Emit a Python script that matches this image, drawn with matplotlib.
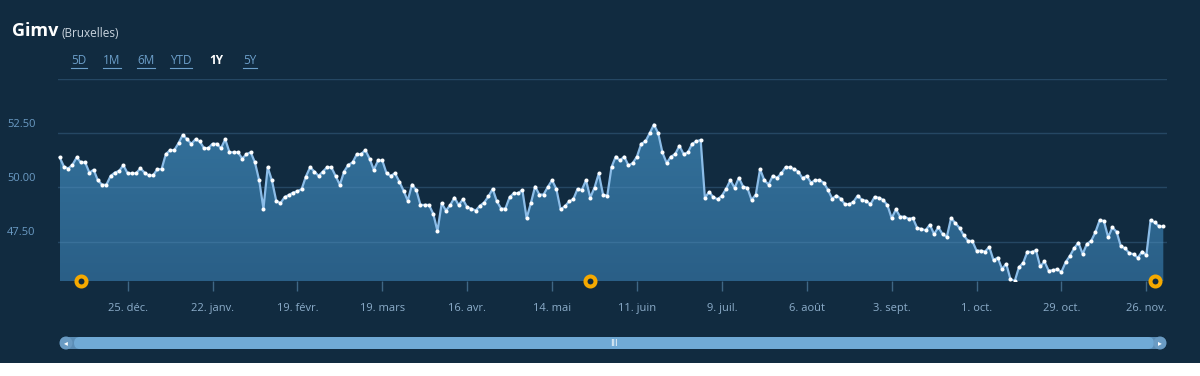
import matplotlib.pyplot as plt
import numpy as np
import pandas as pd
from matplotlib.colors import LinearSegmentedColormap
from matplotlib.patches import Rectangle, FancyBboxPatch, Circle
from matplotlib.transforms import blended_transform_factory

plt.rcParams['font.family'] = ['Open Sans', 'DejaVu Sans']

# data (daily close, business days)
start_date = '2017-12-01'
end_date = '2018-11-30'
close = [
    51.38, 50.96, 50.87, 51.04, 51.38, 51.15, 51.15, 50.68, 50.81, 50.32,
    50.12, 50.12, 50.53, 50.68, 50.76, 51.02, 50.65, 50.65, 50.65, 50.88,
    50.68, 50.55, 50.55, 50.84, 50.84, 51.53, 51.72, 51.72, 52.04, 52.42,
    52.22, 52.01, 52.22, 52.12, 51.81, 51.81, 52.01, 52.01, 51.81, 52.22,
    51.62, 51.62, 51.62, 51.33,
    51.53, 51.62, 51.15, 50.32, 49.02, 50.93, 50.32, 49.39, 49.27, 49.55,
    49.65, 49.76, 49.82, 49.92, 50.50, 50.93, 50.73, 50.53, 50.73, 50.93,
    50.93, 50.53, 50.12, 50.73, 51.04, 51.15, 51.53, 51.53, 51.72, 51.33,
    50.81, 51.24, 51.24, 50.65, 50.53, 50.65, 50.27, 49.85, 49.39, 50.13,
    49.88, 49.19, 49.19,
    49.19, 48.78, 47.99, 49.27, 48.93, 49.18, 49.53, 49.18, 49.45, 49.08,
    49.02, 48.93, 49.15, 49.30, 49.58, 49.93, 49.35, 49.02, 49.02, 49.55,
    49.73, 49.73, 49.88, 48.58, 49.27, 50.04, 49.67, 49.67, 50.02, 50.33,
    49.93, 48.99, 49.12, 49.35, 49.45, 49.93, 49.88, 50.33, 49.53, 49.99,
    50.64, 49.67, 49.61,
    50.93, 51.42, 51.24, 51.42, 51.01, 51.12, 51.42, 52.01, 52.12, 52.50,
    52.90, 52.50, 51.61, 51.12, 51.42, 51.53, 51.92, 51.53, 51.61, 52.01,
    52.12, 52.19, 49.52, 49.79, 49.55, 49.45, 49.61, 49.93, 50.33, 49.98,
    50.44, 50.04, 49.98, 49.42, 49.67, 50.84, 50.33, 50.13, 50.53, 50.44,
    50.64, 50.93, 50.93, 50.84,
    50.73, 50.42, 50.53, 50.22, 50.33, 50.33, 50.22, 49.88, 49.48, 49.62,
    49.48, 49.22, 49.22, 49.33, 49.62, 49.42, 49.38, 49.22, 49.56, 49.52,
    49.42, 49.18, 48.58, 48.98, 48.65, 48.65, 48.55, 48.58, 48.13, 48.08,
    48.02, 48.28, 47.84, 48.16, 47.84, 47.72, 48.59, 48.35, 48.13, 47.78,
    47.53, 47.53, 47.08, 47.08,
    47.04, 47.25, 46.64, 46.76, 46.24, 46.47, 45.76, 45.68, 46.32, 46.52,
    47.04, 47.01, 47.10, 46.35, 46.58, 46.15, 46.18, 46.22, 46.10, 46.55,
    46.84, 47.19, 47.45, 46.93, 47.39, 47.53, 47.93, 48.48, 48.45, 47.70,
    48.15, 47.95, 47.28, 47.19, 46.96, 46.92, 46.75, 47.04, 46.87, 48.49,
    48.38, 48.20, 48.20,
]
tick_dates = ['2017-12-25', '2018-01-22', '2018-02-19', '2018-03-19', '2018-04-16',
              '2018-05-14', '2018-06-11', '2018-07-09', '2018-08-06', '2018-09-03',
              '2018-10-01', '2018-10-29', '2018-11-26']
tick_labels = ['25. déc.', '22. janv.', '19. févr.', '19. mars', '16. avr.', '14. mai',
               '11. juin', '9. juil.', '6. août', '3. sept.', '1. oct.', '29. oct.', '26. nov.']
flag_dates = ['2017-12-08', '2018-05-25', '2018-11-28']
y_levels = [47.5, 50.0, 52.5, 55.0]
y_labels = ['47.50', '50.00', '52.50', '']
ranges = ['5D', '1M', '6M', 'YTD', '1Y', '5Y']
selected = '1Y'

BG = '#112b40'
W, H = 1200, 376

days = pd.bdate_range(start_date, end_date)
x = np.arange(len(days))
tick_pos = days.searchsorted(pd.to_datetime(tick_dates))
flag_pos = days.searchsorted(pd.to_datetime(flag_dates))

fig = plt.figure(figsize=(W / 100, H / 100), dpi=100, facecolor=BG)
ax = fig.add_axes([58 / W, 1 - 281 / H, (1167 - 58) / W, (281 - 79) / H])
ax.set_facecolor('none')

lo = min(close)
fill = ax.fill_between(x, close, lo, facecolor='none', edgecolor='none')
cmap = LinearSegmentedColormap.from_list('area', ['#33719b', '#2a5f87'])
grad = ax.imshow(np.linspace(0, 1, 256).reshape(-1, 1), cmap=cmap, aspect='auto',
                 extent=[x[0], x[-1], lo, max(close)], origin='upper', zorder=1)
grad.set_clip_path(fill.get_paths()[0], transform=ax.transData)

for v in y_levels:
    ax.axhline(v, color='#5b93c0', lw=1, alpha=0.28, zorder=2)

ax.plot(x, close, color='#8cbde8', lw=1.6, zorder=3, solid_joinstyle='round')
ax.plot(x, close, ls='none', marker='o', ms=2.9, mfc='white', mew=0, zorder=4)

ax.set_xlim(-0.4, len(days) - 1 + 0.87)
ax.set_ylim(lo, 55.0)
for s in ax.spines.values():
    s.set_visible(False)
ax.set_yticks([])
ax.set_xticks(tick_pos, tick_labels)
ax.tick_params(axis='x', length=7, width=1, color='#3f6785', labelcolor='#8cadca',
               labelsize=8, pad=9)

for v, lab in zip(y_levels, y_labels):
    ax.annotate(lab, xy=(0, v), xycoords=('axes fraction', 'data'),
                xytext=(-51, 9), textcoords='offset pixels', ha='left', va='center',
                color='#6b9bc4', fontsize=8)

trans = blended_transform_factory(ax.transData, ax.transAxes)
ax.plot(flag_pos, [0] * len(flag_pos), transform=trans, ls='none', marker='o', ms=7.2,
        mfc=BG, mec='#f5a900', mew=2.9, clip_on=False, zorder=6)

# page furniture: title, range buttons, scrollbar
ui = fig.add_axes([0, 0, 1, 1], zorder=-1)
ui.set_xlim(0, W)
ui.set_ylim(H, 0)
ui.axis('off')
ui.patch.set_visible(False)

title = ui.text(12, 36, 'Gimv', fontsize=13, weight='bold', color='white', va='baseline')
ui.annotate('(Bruxelles)', xy=(1, 0), xycoords=title, xytext=(3, 0),
            textcoords='offset pixels', va='bottom', fontsize=8.5, color='#c9d4de')

btn_x = [79, 112, 146, 181, 216, 250]
fig.canvas.draw()
for bx, r in zip(btn_x, ranges):
    if r == selected:
        ui.text(bx, 61, r, ha='center', va='center', fontsize=8.5, weight='bold', color='white')
    else:
        t = ui.text(bx, 61, r, ha='center', va='center', fontsize=8.5, color='#6c9fca')
        bb = t.get_window_extent(fig.canvas.get_renderer())
        ui.plot([bb.x0, bb.x1], [67.5, 67.5], color='#6c9fca', lw=0.8)

# scrollbar
ui.add_patch(FancyBboxPatch((60, 337), 1106, 12, boxstyle='round,pad=0,rounding_size=6',
                            facecolor='#5b8db6', edgecolor='none'))
ui.add_patch(FancyBboxPatch((74, 337), 1080, 12, boxstyle='round,pad=0,rounding_size=6',
                            facecolor='#70aad6', edgecolor='none'))
for cx, arrow in [(66, '◂'), (1160, '▸')]:
    ui.add_patch(Circle((cx, 343), 6.5, facecolor='#6a9bc3', edgecolor='none'))
    ui.text(cx, 343, arrow, ha='center', va='center', fontsize=5.5, color='white',
            family='DejaVu Sans')
ui.text(614, 343, 'III', ha='center', va='center', fontsize=6, color='white',
        family='DejaVu Sans')

ui.add_patch(Rectangle((0, 363), W, H - 363, facecolor='white', edgecolor='none'))

fig.savefig('out.png', dpi=100, facecolor=BG)
